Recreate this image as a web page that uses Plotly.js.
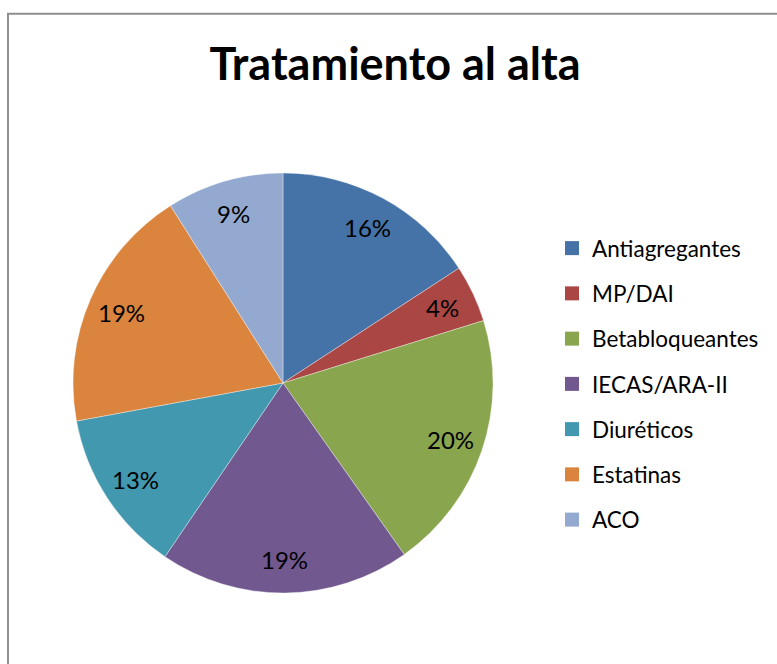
<!DOCTYPE html>
<html>
<head>
<meta charset="utf-8">
<script src="https://cdn.plot.ly/plotly-3.0.1.min.js"></script>
<style>html,body{margin:0;padding:0;background:#fff;}#chart{width:777px;height:664px;}</style>
</head>
<body>
<div id="chart"></div>
<script>
// Data
var categories = ["Antiagregantes", "MP/DAI", "Betabloqueantes", "IECAS/ARA-II", "Diuréticos", "Estatinas", "ACO"];
var values = [15.8, 4.4, 20.0, 19.3, 12.6, 18.9, 9.0];
var colors = ["#4572A7", "#AA4643", "#89A54E", "#71588F", "#4198AF", "#DB843D", "#93A9CF"];
var chartTitle = "Tratamiento al alta";

var W = 777, H = 664;
var cx = 283, cy = 383, R = 210;
var labelRadius = 0.84;

var pieTrace = {
  type: "pie",
  labels: categories,
  values: values,
  sort: false,
  direction: "clockwise",
  rotation: 0,
  marker: { colors: colors, line: { color: "rgba(255,255,255,0.6)", width: 0.6 } },
  textinfo: "none",
  hoverinfo: "label+percent",
  showlegend: false,
  domain: { x: [(cx - R) / W, (cx + R) / W], y: [(H - cy - R) / H, (H - cy + R) / H] }
};

// Percentage labels placed along each slice's middle angle, computed from the values
var total = values.reduce(function (a, b) { return a + b; }, 0);
var cum = 0;
var labelAnnotations = values.map(function (v) {
  var mid = (cum + v / 2) / total * 2 * Math.PI;
  cum += v;
  var px = cx + labelRadius * R * Math.sin(mid);
  var py = cy - labelRadius * R * Math.cos(mid);
  return {
    xref: "paper", yref: "paper", x: px / W, y: 1 - py / H,
    xanchor: "center", yanchor: "middle", showarrow: false,
    text: Math.round(v / total * 100) + "%",
    font: { family: "Lato, sans-serif", size: 24, color: "#000000" }
  };
});

// Legend entries (one group per category so the entries can be spaced like the reference)
var legendTraces = categories.map(function (c, i) {
  return {
    type: "scatter", mode: "markers", x: [null], y: [null], name: c,
    legendgroup: "g" + i,
    marker: { symbol: "square", size: 14, color: colors[i], line: { width: 0 } },
    hoverinfo: "skip"
  };
});

var layout = {
  width: W, height: H,
  margin: { l: 0, r: 0, t: 0, b: 0 },
  paper_bgcolor: "#ffffff", plot_bgcolor: "rgba(0,0,0,0)",
  title: {
    text: chartTitle,
    font: { family: "Lato, sans-serif", size: 45, weight: "bold", color: "#000000" },
    xref: "container", yref: "container",
    x: 395 / W, xanchor: "center",
    y: 1 - 64 / H, yanchor: "middle"
  },
  xaxis: { visible: false, range: [0, 1] },
  yaxis: { visible: false, range: [0, 1] },
  showlegend: true,
  legend: {
    x: 552 / W, xanchor: "left",
    y: 1 - 227 / H, yanchor: "top",
    traceorder: "grouped",
    tracegroupgap: 13,
    font: { family: "Lato, sans-serif", size: 22.5, color: "#000000" },
    bgcolor: "rgba(0,0,0,0)", borderwidth: 0
  },
  annotations: labelAnnotations,
  shapes: [{
    type: "rect", xref: "paper", yref: "paper",
    x0: 8 / W, x1: 1.05, y0: -0.05, y1: 1 - 13.8 / H,
    line: { color: "#8f8f8f", width: 2 }, fillcolor: "rgba(0,0,0,0)", layer: "below"
  }]
};

Plotly.newPlot("chart", [pieTrace].concat(legendTraces), layout, { staticPlot: true, displayModeBar: false });
</script>
</body>
</html>
